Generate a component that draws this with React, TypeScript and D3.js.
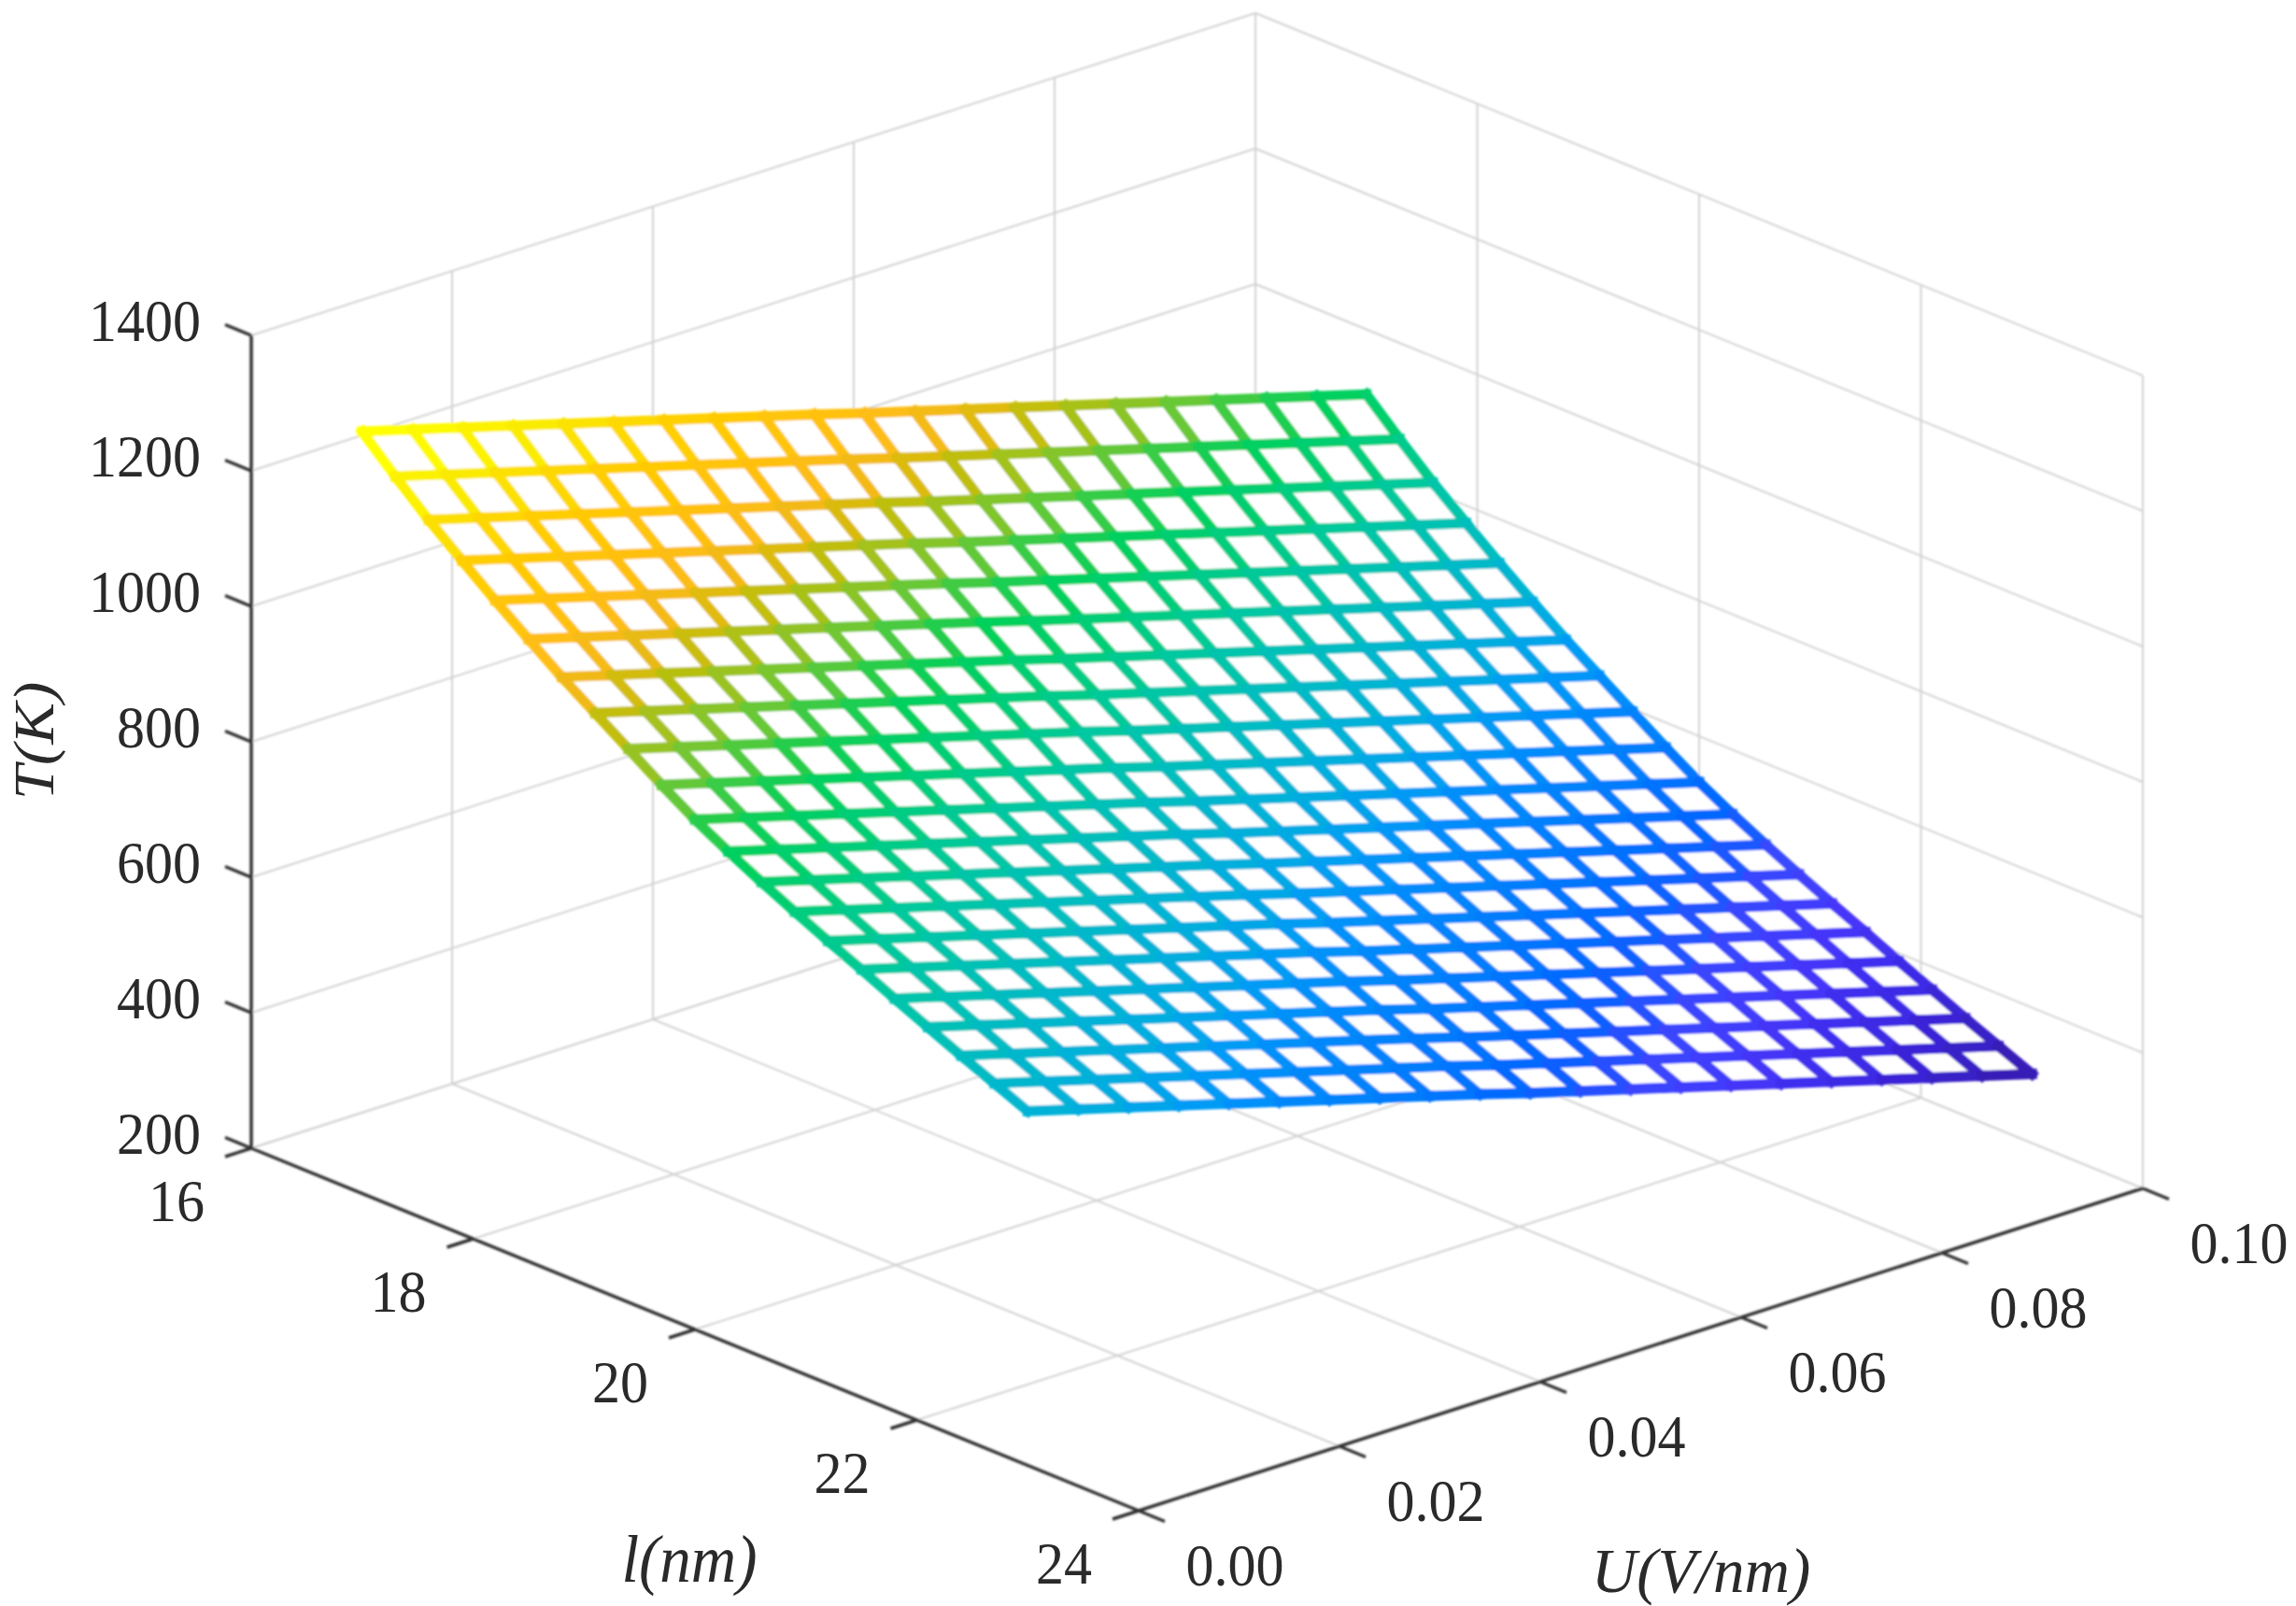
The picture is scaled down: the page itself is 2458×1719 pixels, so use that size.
import * as d3 from "d3";

// mesh grid of the surface
const lengthValues = [17, 17.3, 17.6, 17.9, 18.2, 18.5, 18.8, 19.1, 19.4, 19.7, 20, 20.3, 20.6, 20.9, 21.2, 21.5, 21.8, 22.1, 22.4, 22.7, 23];
const fieldValues = [0, 0.005, 0.01, 0.015, 0.02, 0.025, 0.03, 0.035, 0.04, 0.045, 0.05, 0.055, 0.06, 0.065, 0.07, 0.075, 0.08, 0.085, 0.09, 0.095, 0.1];

// T(K), one row per length value
const temperatureRows = [
  [1325, 1304, 1283, 1262, 1241, 1220, 1199, 1178, 1157, 1136, 1114, 1093, 1072, 1051, 1030, 1009, 988, 967, 946, 925, 904],
  [1279, 1258, 1237, 1216, 1195, 1174, 1153, 1132, 1111, 1090, 1068, 1047, 1026, 1005, 984, 963, 942, 921, 900, 879, 858],
  [1235, 1214, 1193, 1172, 1151, 1130, 1109, 1088, 1067, 1046, 1024, 1003, 982, 961, 940, 919, 898, 877, 856, 835, 814],
  [1195, 1174, 1153, 1132, 1111, 1090, 1069, 1048, 1027, 1006, 984, 963, 942, 921, 900, 879, 858, 837, 816, 795, 774],
  [1156, 1135, 1114, 1093, 1072, 1051, 1030, 1009, 988, 967, 945, 924, 903, 882, 861, 840, 819, 798, 777, 756, 735],
  [1119, 1098, 1077, 1056, 1035, 1014, 993, 972, 951, 930, 908, 887, 866, 845, 824, 803, 782, 761, 740, 719, 698],
  [1083, 1062, 1041, 1020, 999, 978, 957, 936, 915, 894, 872, 851, 830, 809, 788, 767, 746, 725, 704, 683, 662],
  [1050, 1029, 1008, 987, 966, 945, 924, 903, 882, 861, 839, 818, 797, 776, 755, 734, 713, 692, 671, 650, 629],
  [1017, 996, 975, 954, 933, 912, 891, 870, 849, 828, 806, 785, 764, 743, 722, 701, 680, 659, 638, 617, 596],
  [984, 963, 942, 921, 900, 879, 858, 837, 816, 795, 773, 752, 731, 710, 689, 668, 647, 626, 605, 584, 563],
  [953, 932, 911, 890, 869, 848, 827, 806, 785, 764, 742, 721, 700, 679, 658, 637, 616, 595, 574, 553, 532],
  [926, 905, 884, 863, 842, 821, 800, 779, 758, 737, 715, 694, 673, 652, 631, 610, 589, 568, 547, 526, 505],
  [901, 880, 859, 838, 817, 796, 775, 754, 733, 712, 690, 669, 648, 627, 606, 585, 564, 543, 522, 501, 480],
  [877, 856, 835, 814, 793, 772, 751, 730, 709, 688, 666, 645, 624, 603, 582, 561, 540, 519, 498, 477, 456],
  [854, 833, 812, 791, 770, 749, 728, 707, 686, 665, 643, 622, 601, 580, 559, 538, 517, 496, 475, 454, 433],
  [832, 811, 790, 769, 748, 727, 706, 685, 664, 643, 621, 600, 579, 558, 537, 516, 495, 474, 453, 432, 411],
  [809, 788, 767, 746, 725, 704, 683, 662, 641, 620, 598, 577, 556, 535, 514, 493, 472, 451, 430, 409, 388],
  [787, 766, 745, 724, 703, 682, 661, 640, 619, 598, 576, 555, 534, 513, 492, 471, 450, 429, 408, 387, 366],
  [765, 744, 723, 702, 681, 660, 639, 618, 597, 576, 554, 533, 512, 491, 470, 449, 428, 407, 386, 365, 344],
  [744, 723, 702, 681, 660, 639, 618, 597, 576, 555, 533, 512, 491, 470, 449, 428, 407, 386, 365, 344, 323],
  [723, 702, 681, 660, 639, 618, 597, 576, 555, 534, 512, 491, 470, 449, 428, 407, 386, 365, 344, 323, 302],
];

const lengthTicks = [16, 18, 20, 22, 24];
const fieldTicks = [0, 0.02, 0.04, 0.06, 0.08, 0.1];
const temperatureTicks = [200, 400, 600, 800, 1000, 1200, 1400];

// colormap
const colorDomain = [300, 345, 390, 435, 480, 510, 535, 580, 630, 661, 698, 723, 774, 830, 880, 926, 955, 985, 1017, 1050, 1083, 1120, 1195, 1260, 1325];
const colorRange = [
  "rgb(55,20,165)", "rgb(55,32,200)", "rgb(62,42,232)", "rgb(70,55,250)", "rgb(55,72,255)",
  "rgb(15,95,255)", "rgb(0,108,255)", "rgb(0,125,252)", "rgb(0,140,250)", "rgb(0,155,245)",
  "rgb(0,172,225)", "rgb(0,178,215)", "rgb(0,190,190)", "rgb(0,200,160)", "rgb(0,205,125)",
  "rgb(0,208,95)", "rgb(40,205,75)", "rgb(100,200,55)", "rgb(150,195,35)", "rgb(195,190,10)",
  "rgb(240,185,20)", "rgb(255,190,20)", "rgb(255,205,0)", "rgb(250,235,0)", "rgb(255,255,0)",
];

const width = 2458;
const height = 1719;

// orthographic box: floor corner at l=16, U=0, T=200 and the three edge vectors
const origin = { x: 269, y: 1229 };
const lengthEdge = { x: 950, y: 388 };
const fieldEdge = { x: 1075, y: -345 };
const heightEdge = 870;

const lScale = d3.scaleLinear().domain([16, 24]).range([0, 1]);
const uScale = d3.scaleLinear().domain([0, 0.1]).range([0, 1]);
const tScale = d3.scaleLinear().domain([200, 1400]).range([0, 1]);
const colorScale = d3.scaleLinear<string>().domain(colorDomain).range(colorRange).interpolate(d3.interpolateRgb);

const project = (l: number, u: number, t: number): [number, number] => [
  origin.x + lScale(l) * lengthEdge.x + uScale(u) * fieldEdge.x,
  origin.y + lScale(l) * lengthEdge.y + uScale(u) * fieldEdge.y - tScale(t) * heightEdge,
];

const line = d3.line();
const seg = (a: [number, number], b: [number, number]) => line([a, b]) as string;

const L0 = 16, L1 = 24, U0 = 0, U1 = 0.1, T0 = 200, T1 = 1400;
const serif = "'Liberation Serif', serif";
const textColor = "#2a2a2a";
const axisColor = "#333333";
const gridColor = "#d2d2d2";
const stretch = 1.07;

const App = () => {
  const gridLines: string[] = [];
  // floor
  lengthTicks.forEach((l) => gridLines.push(seg(project(l, U0, T0), project(l, U1, T0))));
  fieldTicks.forEach((u) => gridLines.push(seg(project(L0, u, T0), project(L1, u, T0))));
  // back walls
  temperatureTicks.forEach((t) => {
    gridLines.push(seg(project(L0, U0, t), project(L0, U1, t)));
    gridLines.push(seg(project(L0, U1, t), project(L1, U1, t)));
  });
  fieldTicks.forEach((u) => gridLines.push(seg(project(L0, u, T0), project(L0, u, T1))));
  lengthTicks.forEach((l) => gridLines.push(seg(project(l, U1, T0), project(l, U1, T1))));

  // white faces hide the grid behind the mesh
  const last = lengthValues.length - 1;
  const lastU = fieldValues.length - 1;
  const outline: [number, number][] = [
    ...fieldValues.map((u, j) => project(lengthValues[0], u, temperatureRows[0][j])),
    ...lengthValues.map((l, i) => project(l, fieldValues[lastU], temperatureRows[i][lastU])),
    ...fieldValues.map((u, j) => project(lengthValues[last], u, temperatureRows[last][j])).reverse(),
    ...lengthValues.map((l, i) => project(l, fieldValues[0], temperatureRows[i][0])).reverse(),
  ];

  // each mesh edge takes the colour of its first vertex, like MATLAB's flat edges
  const edges: { d: string; color: string }[] = [];
  lengthValues.forEach((l, i) => {
    fieldValues.forEach((u, j) => {
      const t = temperatureRows[i][j];
      const p = project(l, u, t);
      if (j < lastU) edges.push({ d: seg(p, project(l, fieldValues[j + 1], temperatureRows[i][j + 1])), color: colorScale(t) });
      if (i < last) edges.push({ d: seg(p, project(lengthValues[i + 1], u, temperatureRows[i + 1][j])), color: colorScale(t) });
    });
  });

  const tickL = { x: -28, y: 9 };
  const tickU = { x: 28, y: 11.5 };
  const tickT = { x: -28, y: -11.5 };

  return (
    <svg
      width={width}
      height={height}
      viewBox={`0 0 ${width} ${height}`}
      style={{ position: "absolute", left: 0, top: 0, display: "block", background: "#fff" }}
    >
      <defs>
        <filter id="soft" x="-5%" y="-5%" width="110%" height="110%">
          <feGaussianBlur stdDeviation="0.9" />
        </filter>
      </defs>

      <g filter="url(#soft)">
        <g fill="none" stroke={gridColor} strokeWidth={2}>
          {gridLines.map((d, i) => (
            <path key={i} d={d} />
          ))}
        </g>

        <path d={line(outline) + "Z"} fill="#fff" stroke="none" />
        <g fill="none" strokeWidth={11} strokeLinecap="square">
          {edges.map((e, i) => (
            <path key={i} d={e.d} stroke={e.color} />
          ))}
        </g>

        <g fill="none" stroke={axisColor} strokeWidth={3.5}>
          <path d={seg(project(L0, U0, T0), project(L0, U0, T1))} />
          <path d={seg(project(L0, U0, T0), project(L1, U0, T0))} />
          <path d={seg(project(L1, U0, T0), project(L1, U1, T0))} />
          {temperatureTicks.map((t) => {
            const [x, y] = project(L0, U0, t);
            return <path key={t} d={seg([x, y], [x + tickT.x, y + tickT.y])} />;
          })}
          {lengthTicks.map((l) => {
            const [x, y] = project(l, U0, T0);
            return <path key={l} d={seg([x, y], [x + tickL.x, y + tickL.y])} />;
          })}
          {fieldTicks.map((u) => {
            const [x, y] = project(L1, u, T0);
            return <path key={u} d={seg([x, y], [x + tickU.x, y + tickU.y])} />;
          })}
        </g>
      </g>

      <g fontFamily={serif} fontSize={60} fill={textColor}>
        {temperatureTicks.map((t) => {
          const [x, y] = project(L0, U0, t);
          return (
            <text key={t} transform={`translate(${x - 54},${y - 16}) scale(1,${stretch})`} textAnchor="end" dy="0.338em">
              {t}
            </text>
          );
        })}
        {lengthTicks.map((l) => {
          const [x, y] = project(l, U0, T0);
          return (
            <text key={l} transform={`translate(${x - 80},${y + 56}) scale(1,${stretch})`} textAnchor="middle" dy="0.338em">
              {l}
            </text>
          );
        })}
        {fieldTicks.map((u) => {
          const [x, y] = project(L1, u, T0);
          return (
            <text key={u} transform={`translate(${x + 103},${y + 58}) scale(1,${stretch})`} textAnchor="middle" dy="0.338em">
              {u.toFixed(2)}
            </text>
          );
        })}
      </g>

      <g fontFamily={serif} fontStyle="italic" fill={textColor} textAnchor="middle">
        <text transform={`translate(39,793) scale(1,1.1) rotate(-90)`} fontSize={61} dy="0.3em">
          T(K)
        </text>
        <text transform={`translate(738,1672) scale(1,1.06)`} fontSize={67} dy="0.3em">
          l(nm)
        </text>
        <text transform={`translate(1821,1684) scale(1,1)`} fontSize={67} dy="0.3em">
          U(V/nm)
        </text>
      </g>
    </svg>
  );
};

export default App;
